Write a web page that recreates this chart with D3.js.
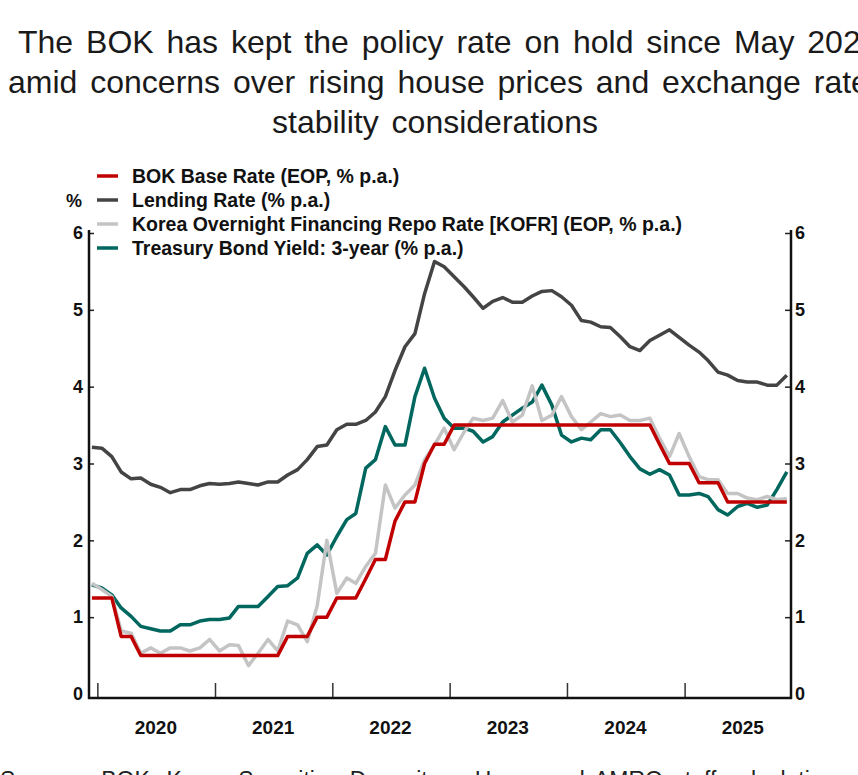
<!DOCTYPE html>
<html>
<head>
<meta charset="utf-8">
<script src="https://cdn.jsdelivr.net/npm/d3@7"></script>
<style>
body{margin:0;background:#fff}
svg{display:block}
</style>
</head>
<body>
<div id="chart"></div>
<script>
// monthly, Dec 2019 .. Nov 2025
var firstMonth = new Date(Date.UTC(2019, 11, 1))
var lastMonth = new Date(Date.UTC(2025, 10, 1))

var baseRate = [1.25,1.25,1.25,0.75,0.75,0.5,0.5,0.5,0.5,0.5,0.5,0.5,0.5,
  0.5,0.5,0.5,0.5,0.5,0.5,0.5,0.75,0.75,0.75,1.0,1.0,
  1.25,1.25,1.25,1.5,1.75,1.75,2.25,2.5,2.5,3.0,3.25,3.25,
  3.5,3.5,3.5,3.5,3.5,3.5,3.5,3.5,3.5,3.5,3.5,3.5,
  3.5,3.5,3.5,3.5,3.5,3.5,3.5,3.5,3.5,3.25,3.0,3.0,
  3.0,2.75,2.75,2.75,2.5,2.5,2.5,2.5,2.5,2.5,2.5]

var lendingRate = [3.21,3.20,3.09,2.89,2.80,2.81,2.73,2.69,2.62,2.66,2.66,2.71,2.74,
  2.73,2.74,2.76,2.74,2.72,2.76,2.76,2.85,2.92,3.05,3.22,3.24,
  3.44,3.51,3.51,3.56,3.67,3.87,4.21,4.52,4.69,5.21,5.63,5.56,
  5.43,5.30,5.17,5.02,5.11,5.16,5.10,5.10,5.18,5.24,5.25,5.17,
  5.06,4.86,4.84,4.78,4.77,4.65,4.52,4.47,4.60,4.67,4.74,4.64,
  4.54,4.45,4.34,4.19,4.15,4.08,4.06,4.06,4.02,4.02,4.15]

var kofr = [1.44,1.36,1.27,0.82,0.79,0.53,0.60,0.53,0.60,0.60,0.56,0.60,0.71,
  0.56,0.64,0.63,0.37,0.53,0.71,0.56,0.95,0.90,0.68,1.15,2.00,
  1.31,1.51,1.44,1.66,1.83,2.72,2.42,2.59,2.72,3.05,3.24,3.46,
  3.18,3.41,3.59,3.56,3.59,3.82,3.54,3.63,4.01,3.56,3.63,3.87,
  3.61,3.44,3.54,3.65,3.61,3.63,3.56,3.56,3.59,3.33,3.09,3.39,
  3.09,2.83,2.79,2.79,2.61,2.61,2.55,2.53,2.57,2.53,2.54]

var ktb3y = [1.42,1.38,1.29,1.12,1.01,0.88,0.85,0.82,0.82,0.90,0.90,0.95,0.97,
  0.97,0.99,1.14,1.14,1.14,1.27,1.40,1.41,1.51,1.83,1.94,1.81,
  2.05,2.27,2.35,2.94,3.05,3.48,3.24,3.24,3.87,4.24,3.85,3.59,
  3.46,3.46,3.42,3.28,3.35,3.54,3.63,3.72,3.80,4.02,3.76,3.37,
  3.28,3.33,3.31,3.44,3.44,3.27,3.09,2.93,2.86,2.92,2.85,2.59,
  2.59,2.61,2.57,2.40,2.33,2.44,2.48,2.43,2.46,2.66,2.89]

var yearLabels = ["2020","2021","2022","2023","2024","2025"]
var yTicks = [0,1,2,3,4,5,6]
var titleLines = ["The BOK has kept the policy rate on hold since May 2025",
  "amid concerns over rising house prices and exchange rate",
  "stability considerations"]
var legendNames = ["BOK Base Rate (EOP, % p.a.)","Lending Rate  (% p.a.)",
  "Korea Overnight Financing Repo Rate [KOFR] (EOP, % p.a.)","Treasury Bond Yield: 3-year (% p.a.)"]
var sourceText = "Sources: BOK, Korea Securities Depository, Haver and AMRO staff calculations"

var width = 858, height = 775
var fontFam = "'Liberation Sans', Arial, Helvetica, sans-serif"
var colors = ["#c00000","#444444","#c4c4c4","#00675f"]

var months = d3.utcMonths(firstMonth, d3.utcMonth.offset(lastMonth, 1))
function mid(m){ return d3.utcDay.offset(m, 14) }

var svg = d3.select("#chart").append("svg")
  .attr("width", width).attr("height", height)
  .style("font-family", fontFam)

// title
var titleX = [18, 8, 272]
svg.selectAll("text.title").data(titleLines).enter().append("text")
  .attr("class","title")
  .attr("x", function(d,i){ return titleX[i] })
  .attr("y", function(d,i){ return 53 + i*40 })
  .attr("font-size", "32px")
  .attr("word-spacing", "4px")
  .attr("fill", "#1a1a1a")
  .text(function(d){ return d })

var X = d3.scaleUtc()
  .domain([new Date(Date.UTC(2019,11,6)), new Date(Date.UTC(2025,10,28))])
  .range([89, 791])
var Y = d3.scaleLinear().domain([0,6]).range([694, 233])

var axisBottomY = 698

// year ticks (inside, pointing up)
var yearStarts = yearLabels.map(function(y){ return new Date(Date.UTC(+y,0,1)) })
var xAxis = d3.axisBottom(X).tickValues(yearStarts).tickSize(-15).tickFormat("")
var gx = svg.append("g").attr("transform","translate(0,"+axisBottomY+")").call(xAxis)
gx.select(".domain").remove()
gx.selectAll(".tick line").attr("stroke","#333").attr("stroke-width",1.5)

svg.selectAll("text.year").data(yearLabels).enter().append("text")
  .attr("class","year")
  .attr("x", function(d){ return X(new Date(Date.UTC(+d,6,1))) })
  .attr("y", 734)
  .attr("text-anchor","middle")
  .attr("font-size","19px").attr("font-weight","bold")
  .attr("fill","#111")
  .text(function(d){ return d })

// left / right axes
var leftAxis = d3.axisLeft(Y).tickValues(yTicks).tickSize(-5).tickPadding(10).tickFormat(d3.format("d"))
var gl = svg.append("g").attr("transform","translate(89,0)").call(leftAxis)
var rightAxis = d3.axisRight(Y).tickValues(yTicks).tickSize(-6).tickPadding(10).tickFormat(d3.format("d"))
var gr = svg.append("g").attr("transform","translate(791,0)").call(rightAxis)
;[gl, gr].forEach(function(g){
  g.select(".domain").remove()
  g.selectAll(".tick line").attr("stroke","#222").attr("stroke-width",1.5)
  g.selectAll(".tick line").filter(function(d){ return d===0 }).remove()
  g.selectAll(".tick text").attr("font-size","18px").attr("font-weight","bold")
    .attr("fill","#111").attr("font-family", fontFam)
})
gl.selectAll(".tick text").attr("x",-6)
gr.selectAll(".tick text").attr("x",4)

// frame lines
svg.append("line").attr("x1",89).attr("x2",89).attr("y1",230).attr("y2",axisBottomY+1)
  .attr("stroke","#111").attr("stroke-width",2.5)
svg.append("line").attr("x1",791).attr("x2",791).attr("y1",230).attr("y2",axisBottomY+1)
  .attr("stroke","#111").attr("stroke-width",2.5)
svg.append("line").attr("x1",88).attr("x2",792).attr("y1",axisBottomY).attr("y2",axisBottomY)
  .attr("stroke","#111").attr("stroke-width",2.5)

// series
var series = [
  {name:"ktb", values:ktb3y, color:colors[3]},
  {name:"kofr", values:kofr, color:colors[2]},
  {name:"lending", values:lendingRate, color:colors[1]},
  {name:"base", values:baseRate, color:colors[0]}
]
var line = d3.line()
  .x(function(d,i){ return X(mid(months[i])) })
  .y(function(d){ return Y(d) })

svg.selectAll("path.series").data(series).enter().append("path")
  .attr("class","series")
  .attr("fill","none")
  .attr("stroke", function(d){ return d.color })
  .attr("stroke-width", 3.5)
  .attr("stroke-linejoin","round")
  .attr("d", function(d){ return line(d.values) })

// legend
var leg = svg.selectAll("g.leg").data(legendNames).enter().append("g")
  .attr("class","leg")
  .attr("transform", function(d,i){ return "translate(97,"+(176+i*24)+")" })
leg.append("line").attr("x1",0).attr("x2",21).attr("y1",0).attr("y2",0)
  .attr("stroke", function(d,i){ return colors[i] }).attr("stroke-width",3.5)
leg.append("text").attr("x",35).attr("y",7)
  .attr("font-size","19.5px").attr("font-weight","bold").attr("fill","#111")
  .text(function(d){ return d })

svg.append("text").attr("x",66).attr("y",207)
  .attr("font-size","18px").attr("font-weight","bold").attr("fill","#111")
  .text("%")

// source, mostly cut by the bottom edge
svg.append("text").attr("x",0).attr("y",788)
  .attr("font-size","23px").attr("word-spacing","4px").attr("fill","#222")
  .text(sourceText)
</script>
</body>
</html>
